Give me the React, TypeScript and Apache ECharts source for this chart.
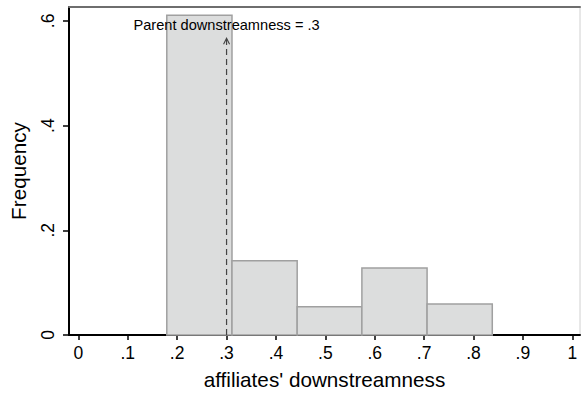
import React, { useEffect, useRef } from 'react';
import * as echarts from 'echarts';

const binStarts = [0.179, 0.311, 0.443, 0.574, 0.706];
const binEnds = [0.311, 0.443, 0.574, 0.706, 0.838];
const frequencies = [0.611, 0.142, 0.054, 0.128, 0.059];
const xTicks = [0, 0.1, 0.2, 0.3, 0.4, 0.5, 0.6, 0.7, 0.8, 0.9, 1];
const yTicks = [0, 0.2, 0.4, 0.6];
const parentValue = 0.3;
const arrowTop = 0.567;
const annotationText = 'Parent downstreamness = .3';
const xTitle = "affiliates' downstreamness";
const yTitle = 'Frequency';

const FONT = 'Liberation Sans, Arial, sans-serif';

function fmt(v: number): string {
  const r = Math.round(v * 10) / 10;
  if (r === 0) return '0';
  if (r === 1) return '1';
  return '.' + Math.round(r * 10);
}

export default function App() {
  const ref = useRef<HTMLDivElement>(null);
  useEffect(() => {
    if (!ref.current) return;
    const chart = echarts.init(ref.current, null, { renderer: 'svg' });
    const histData = binStarts.map((s, i) => [s, binEnds[i], frequencies[i]]);
    chart.setOption({
      animation: false,
      backgroundColor: '#fff',
      grid: {
        left: 69,
        right: 1,
        top: 7,
        bottom: 60,
        containLabel: false,
        outerBoundsMode: 'none',
        show: true,
        borderColor: '#d0d0d0',
        borderWidth: 1,
      },
      xAxis: [
        {
          type: 'value',
          min: -0.019,
          max: 1.0156,
          name: xTitle,
          nameLocation: 'middle',
          nameGap: 34,
          nameTextStyle: { fontSize: 20.7, color: '#000', fontFamily: FONT },
          axisLine: { show: true, onZero: false, lineStyle: { color: '#000', width: 2 } },
          axisTick: { show: true, customValues: xTicks, length: 5, lineStyle: { color: '#000', width: 1.5 } },
          axisLabel: { customValues: xTicks, formatter: fmt, fontSize: 17.5, color: '#000', fontFamily: FONT, margin: 9 },
          splitLine: { show: false },
        },
        {
          type: 'value',
          position: 'top',
          min: -0.019,
          max: 1.0156,
          axisLine: { show: true, onZero: false, lineStyle: { color: '#6e6e6e', width: 2 } },
          axisTick: { show: false },
          axisLabel: { show: false },
          splitLine: { show: false },
        },
      ],
      yAxis: {
        type: 'value',
        min: 0,
        max: 0.6266,
        name: yTitle,
        nameLocation: 'middle',
        nameGap: 40,
        nameTextStyle: { fontSize: 20.7, color: '#000', fontFamily: FONT },
        axisLine: { show: true, onZero: false, lineStyle: { color: '#000', width: 2 } },
        axisTick: { show: true, customValues: yTicks, length: 6, lineStyle: { color: '#000', width: 1.5 } },
        axisLabel: { customValues: yTicks, formatter: fmt, rotate: 90, fontSize: 17.5, color: '#000', fontFamily: FONT, margin: 12 },
        splitLine: { show: false },
      },
      series: [
        {
          type: 'custom',
          xAxisIndex: 0,
          data: histData,
          encode: { x: [0, 1], y: 2 },
          renderItem: (params: any, api: any) => {
            const s = api.coord([api.value(0), 0]);
            const e = api.coord([api.value(1), api.value(2)]);
            return {
              type: 'rect',
              shape: { x: s[0], y: e[1], width: e[0] - s[0], height: s[1] - e[1] },
              style: { fill: '#dcdddd', stroke: '#a0a0a0', lineWidth: 1.5 },
            };
          },
          z: 2,
        },
        {
          type: 'custom',
          xAxisIndex: 0,
          data: [[parentValue, arrowTop]],
          encode: { x: 0, y: 1 },
          renderItem: (params: any, api: any) => {
            const base = api.coord([api.value(0), 0]);
            const tip = api.coord([api.value(0), api.value(1)]);
            return {
              type: 'group',
              children: [
                {
                  type: 'line',
                  shape: { x1: base[0], y1: base[1], x2: tip[0], y2: tip[1] },
                  style: { stroke: '#444', lineWidth: 1.2, lineDash: [6, 4] },
                },
                {
                  type: 'polyline',
                  shape: { points: [[tip[0] - 3, tip[1] + 6], [tip[0], tip[1]], [tip[0] + 3, tip[1] + 6]] },
                  style: { stroke: '#444', lineWidth: 1.1, fill: 'none' },
                },
                {
                  type: 'text',
                  x: tip[0],
                  y: tip[1] - 12.7,
                  style: {
                    text: annotationText,
                    fontSize: 14.6,
                    fontFamily: FONT,
                    fill: '#000',
                    align: 'center',
                    verticalAlign: 'middle',
                  },
                },
              ],
            };
          },
          z: 3,
        },
      ],
    });
    return () => chart.dispose();
  }, []);
  return <div ref={ref} style={{ position: 'fixed', left: 0, top: 0, width: 581, height: 395 }} />;
}
